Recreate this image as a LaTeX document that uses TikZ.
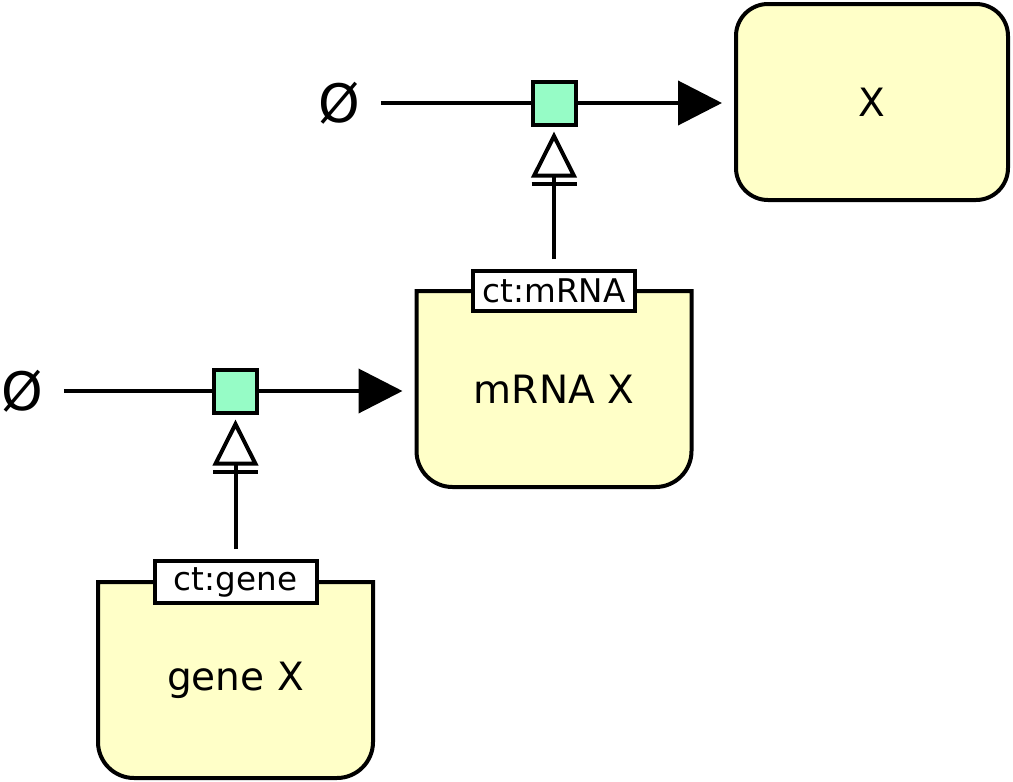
\documentclass[tikz,border=0pt]{standalone}
\usepackage{fontspec}
\setmainfont{DejaVu Sans}
\usepackage{tikz}
\usetikzlibrary{arrows.meta, backgrounds}
\usepackage{xcolor}
\definecolor{nafill}{HTML}{FFFFC8}
\definecolor{procfill}{HTML}{96FCC6}

\begin{document}
\begin{tikzpicture}[
    x=0.5pt, y=-0.5pt, line width=2pt,
    macro/.style = {draw, fill=nafill, rounded corners=16pt, minimum width=136pt, minimum height=98pt, outer sep=0pt, font=\fontsize{19.5}{23}\selectfont},
    feature/.style = {minimum width=137.5pt, minimum height=98pt, outer sep=0pt, font=\fontsize{19.5}{23}\selectfont},
    outline/.style = {draw, fill=nafill, line width=2pt},
    unitinfo/.style = {draw, fill=white, minimum width=81pt, minimum height=20pt, inner sep=3pt, outer sep=0pt, font=\fontsize{16.3}{19}\selectfont},
    process/.style = {draw, fill=procfill, minimum size=21.5pt, inner sep=0pt, outer sep=0pt},
    emptyset/.style = {inner sep=0pt, outer sep=0pt, font=\fontsize{26.5}{30}\selectfont},
    flux/.style = {draw, shorten <=10.5pt},
    production/.style = {draw, -{Triangle[length=22pt, width=22pt]}, shorten >=7pt},
    stimulation/.style = {draw, -{Bar[width=22.5pt, sep=2pt] Triangle[open, length=23pt, width=22.5pt]}, shorten <=6pt, shorten >=3.5pt}
]
\useasboundingbox (0,0) rectangle (1013,782);

% Species
\node (x) [macro] at (872, 102) {X};
\node (mrna) [feature] at (554, 389) {mRNA X};
\node (gene) [feature] at (235.5, 680) {gene X};

% Nucleic acid feature outlines
\begin{scope}[on background layer]
\foreach \n in {mrna, gene}
    \draw [outline] (\n.north west) -- ([yshift=18pt]\n.south west) arc[start angle=180, end angle=270, radius=18pt] -- ([xshift=-18pt]\n.south east) arc[start angle=270, end angle=360, radius=18pt] -- (\n.north east) -- cycle;
\end{scope}

% Units of information
\node (mrnact) [unitinfo] at (mrna.north) {ct:mRNA};
\node (genect) [unitinfo] at (gene.north) {ct:gene};

% Processes
\node (transl) [process] at (554, 103) {};
\node (transc) [process] at (235.5, 391) {};

% Sources
\node (srcx) [emptyset] at (339, 103) {Ø};
\node (srcmrna) [emptyset] at (22, 391) {Ø};

% Arcs
\draw [flux] (srcmrna) -- (transc);
\draw [production] (transc.east) -- (transc -| mrna.west);
\draw [flux] (srcx) -- (transl);
\draw [production] (transl.east) -- (transl -| x.west);
\draw [stimulation] (genect) -- (transc);
\draw [stimulation] (mrnact) -- (transl);

\end{tikzpicture}
\end{document}
